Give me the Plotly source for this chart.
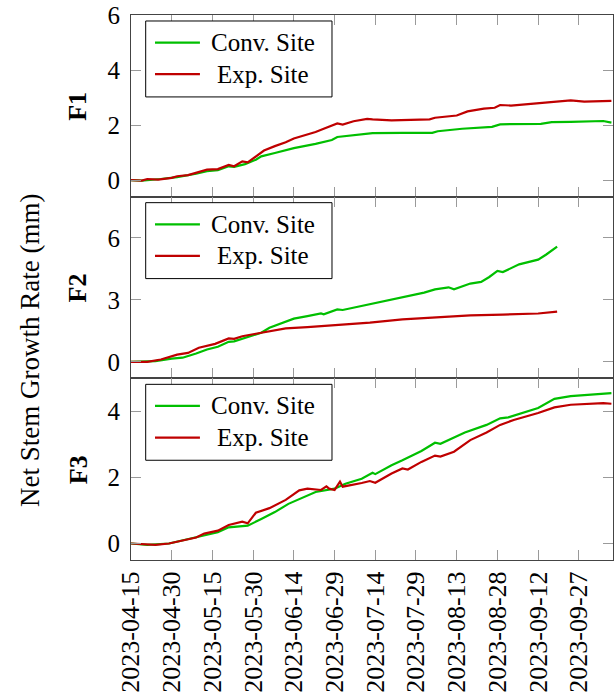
import pandas as pd
import plotly.graph_objects as go
from plotly.subplots import make_subplots

START = pd.Timestamp("2023-04-15")

# F1 -- days since start and net growth (mm)
f1_conv_days = [0, 4, 11, 17, 24, 28, 32, 36, 38, 42, 46, 48, 53, 60, 68, 74, 76, 82, 89,
                100, 111, 113, 122, 133, 136, 151, 155, 162, 174, 177]
f1_conv_vals = [0.02, 0.0, 0.06, 0.13, 0.25, 0.34, 0.38, 0.52, 0.50, 0.60, 0.76, 0.88, 1.00,
                1.18, 1.33, 1.47, 1.58, 1.65, 1.72, 1.73, 1.73, 1.79, 1.88, 1.95, 2.04, 2.06,
                2.12, 2.13, 2.16, 2.10]
f1_exp_days = [0, 4, 6, 10, 15, 17, 21, 25, 28, 32, 36, 38, 41, 43, 46, 49, 53, 57, 60, 64,
               68, 71, 76, 78, 82, 87, 89, 96, 103, 110, 112, 120, 124, 130, 134, 136, 140,
               150, 156, 162, 167, 174, 177]
f1_exp_vals = [0.02, 0.0, 0.06, 0.04, 0.10, 0.16, 0.20, 0.30, 0.40, 0.42, 0.57, 0.52, 0.70,
               0.66, 0.88, 1.09, 1.25, 1.39, 1.53, 1.65, 1.76, 1.88, 2.07, 2.03, 2.15, 2.24,
               2.22, 2.18, 2.19, 2.22, 2.28, 2.36, 2.51, 2.61, 2.64, 2.74, 2.72, 2.80, 2.87,
               2.91, 2.86, 2.90, 2.89]

# F2
f2_conv_days = [0, 9, 15, 19, 24, 28, 32, 36, 38, 43, 48, 51, 57, 60, 65, 70, 71, 76, 78,
                88, 100, 108, 112, 117, 119, 125, 129, 132, 135, 137, 143, 150, 153, 155, 157]
f2_conv_vals = [0.0, 0.03, 0.15, 0.20, 0.40, 0.60, 0.73, 0.97, 0.99, 1.21, 1.41, 1.65, 1.92,
                2.09, 2.21, 2.34, 2.30, 2.54, 2.51, 2.80, 3.14, 3.35, 3.51, 3.61, 3.51, 3.79,
                3.87, 4.11, 4.40, 4.35, 4.72, 4.95, 5.20, 5.40, 5.58]
f2_exp_days = [0, 6, 11, 17, 21, 25, 31, 36, 38, 41, 46, 51, 57, 65, 73, 76, 88, 100, 113,
               125, 137, 150, 157]
f2_exp_vals = [0.0, 0.0, 0.11, 0.35, 0.43, 0.68, 0.87, 1.13, 1.11, 1.24, 1.36, 1.49, 1.62,
               1.68, 1.75, 1.81, 1.90, 2.06, 2.17, 2.25, 2.29, 2.34, 2.43]

# F3
f3_conv_days = [0, 6, 14, 24, 32, 36, 43, 48, 53, 58, 63, 68, 75, 79, 85, 89, 90, 96, 100,
                107, 112, 114, 123, 131, 136, 139, 150, 156, 162, 174, 177]
f3_conv_vals = [0.0, -0.04, 0.0, 0.18, 0.34, 0.49, 0.54, 0.74, 0.95, 1.20, 1.38, 1.56, 1.66,
                1.81, 1.96, 2.14, 2.10, 2.37, 2.52, 2.80, 3.05, 3.02, 3.36, 3.59, 3.79, 3.82,
                4.10, 4.38, 4.46, 4.53, 4.55]
f3_exp_days = [0, 9, 14, 19, 24, 27, 32, 36, 41, 43, 46, 51, 57, 62, 65, 70, 72, 73, 75, 77,
               78, 85, 88, 90, 96, 100, 102, 107, 112, 114, 119, 125, 131, 136, 141, 150, 156,
               162, 174, 177]
f3_exp_vals = [0.0, -0.04, 0.0, 0.08, 0.18, 0.30, 0.39, 0.56, 0.66, 0.61, 0.93, 1.07, 1.32,
               1.61, 1.66, 1.62, 1.73, 1.66, 1.62, 1.87, 1.72, 1.83, 1.89, 1.84, 2.12, 2.27,
               2.24, 2.47, 2.66, 2.63, 2.78, 3.13, 3.36, 3.59, 3.74, 3.95, 4.12, 4.20, 4.25,
               4.23]

panel_names = ["F1", "F2", "F3"]
series_names = ["Conv. Site", "Exp. Site"]
y_ranges = [[-0.58, 6], [-0.8, 8], [-0.5, 5]]
y_ticks = [[0, 2, 4, 6], [0, 3, 6], [0, 2, 4]]
x_tick_dates = pd.date_range("2023-04-15", "2023-09-27", freq="15D")
x_range = ["2023-04-15", "2023-10-09 14:00"]

panels = [
    ((f1_conv_days, f1_conv_vals), (f1_exp_days, f1_exp_vals)),
    ((f2_conv_days, f2_conv_vals), (f2_exp_days, f2_exp_vals)),
    ((f3_conv_days, f3_conv_vals), (f3_exp_days, f3_exp_vals)),
]

GREEN = "#00bf00"
RED = "#bf0000"
colors = [GREEN, RED]
FONT = "Liberation Serif"
AXIS = "#444444"
TICK = "#9a9a9a"

fig = make_subplots(rows=3, cols=1, shared_xaxes=True, vertical_spacing=0)

for r, pair in enumerate(panels, start=1):
    for (days, vals), name, col in zip(pair, series_names, colors):
        fig.add_trace(
            go.Scatter(
                x=[START + pd.Timedelta(days=d) for d in days],
                y=vals,
                mode="lines",
                name=name,
                line=dict(color=col, width=2.2),
                showlegend=False,
            ),
            row=r, col=1,
        )

for r in range(1, 4):
    fig.update_xaxes(
        row=r, col=1,
        range=x_range,
        tickvals=list(x_tick_dates),
        tickformat="%Y-%m-%d",
        tickangle=-90,
        ticks="inside", ticklen=10, tickwidth=1, tickcolor=TICK,
        showline=True, linecolor=AXIS, linewidth=1, mirror="ticks",
        showgrid=False, zeroline=False,
        showticklabels=(r == 3),
        tickfont=dict(family=FONT, size=26, color="black"),
    )
    fig.update_yaxes(
        row=r, col=1,
        range=y_ranges[r - 1],
        tickvals=y_ticks[r - 1],
        ticks="inside", ticklen=10, tickwidth=1, tickcolor=TICK,
        showline=True, linecolor=AXIS, linewidth=1, mirror="ticks",
        showgrid=False, zeroline=False,
        ticklabelstandoff=5,
        tickfont=dict(family=FONT, size=25, color="black"),
    )

# Boxed legend in each panel, plus the bold panel labels
shapes = []
annotations = []
for r in range(1, 4):
    xr = "x domain" if r == 1 else f"x{r} domain"
    yr = "y domain" if r == 1 else f"y{r} domain"
    shapes.append(dict(type="rect", xref=xr, yref=yr, x0=0.0305, x1=0.417, y0=0.549, y1=0.967,
                       line=dict(color="black", width=1), fillcolor="white", layer="above"))
    for k, (name, col) in enumerate(zip(series_names, colors)):
        yy = 0.848 if k == 0 else 0.674
        shapes.append(dict(type="line", xref=xr, yref=yr, x0=0.0498, x1=0.143, y0=yy, y1=yy,
                           line=dict(color=col, width=2.2), layer="above"))
        annotations.append(dict(xref=xr, yref=yr, x=0.273, y=yy, text=name, showarrow=False,
                                xanchor="center", yanchor="middle",
                                font=dict(family=FONT, size=25, color="black")))
    annotations.append(dict(xref="paper", yref=yr, x=-0.11, y=0.5,
                            text=f"<b>{panel_names[r - 1]}</b>", textangle=-90, showarrow=False,
                            xanchor="center", yanchor="middle",
                            font=dict(family=FONT, size=26, color="black")))

annotations.append(dict(xref="paper", yref="paper", x=-0.21, y=0.385,
                        text="Net Stem Growth Rate (mm)", textangle=-90, showarrow=False,
                        xanchor="center", yanchor="middle",
                        font=dict(family=FONT, size=27, color="black")))

fig.update_layout(
    width=615, height=698,
    margin=dict(l=131, r=2, t=15, b=138),
    paper_bgcolor="white", plot_bgcolor="white",
    shapes=shapes, annotations=annotations,
    font=dict(family=FONT, color="black"),
)

fig.write_html("out.html")
